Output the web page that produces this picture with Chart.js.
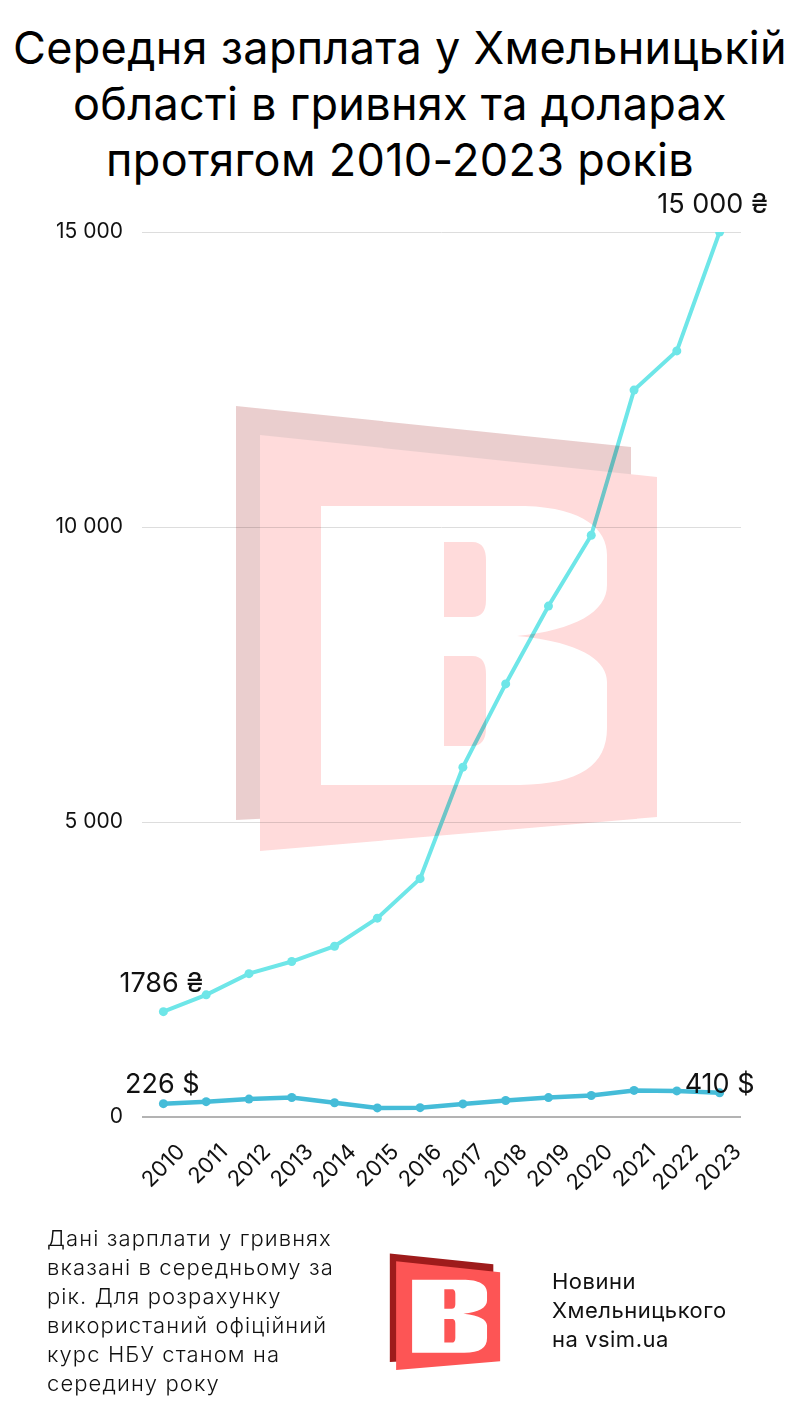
<!DOCTYPE html>
<html>
<head>
<meta charset="utf-8">
<script src="https://cdn.jsdelivr.net/npm/chart.js@4.4.0/dist/chart.umd.min.js"></script>
<style>
  body { margin: 0; background: #fff; }
  #page { position: relative; width: 800px; height: 1422px; overflow: hidden; background: #fff; }
  #title { position: absolute; left: 0; top: 20px; width: 800px; text-align: center;
           font-family: Inter, sans-serif; font-weight: 400; font-size: 45px; line-height: 56px;
           letter-spacing: 0.3px; color: #000; }
  #chart { position: absolute; left: 0; top: 180px; }
  #mark { position: absolute; left: 0; top: 0; mix-blend-mode: multiply; pointer-events: none; }
  #note { position: absolute; left: 47px; top: 1224px; font-family: Inter, sans-serif; font-weight: 300;
          font-size: 22px; line-height: 29px; letter-spacing: 1.1px; color: #111; }
  #brand { position: absolute; left: 552px; top: 1267px; font-family: Inter, sans-serif; font-weight: 400;
           font-size: 22px; line-height: 29px; letter-spacing: 0.5px; color: #111; }
</style>
</head>
<body>
<div id="page">
  <div id="title">Середня зарплата у Хмельницькій<br>області в гривнях та доларах<br>протягом 2010-2023 років</div>
  <canvas id="chart" width="800" height="1030"></canvas>
  <svg id="mark" width="800" height="1422" viewBox="0 0 800 1422">
    <defs>
      <g id="logo">
        <polygon points="236,406 631,447 631,800 236,820" fill="#9e1b1b"/>
        <polygon points="260,435 657,477 657,817 260,851" fill="#fd5555"/>
        <path fill="#fff" fill-rule="evenodd"
              d="M321,506 H525 C585,508 607,530 607,555 V585 C607,612 575,630 517,636 C580,642 607,660 607,682 V728 C607,765 580,784 520,785 H321 Z
                 M444,542 H472 C483,542 486,550 486,560 V600 C486,612 481,617 472,617 H444 Z
                 M444,656 H472 C483,656 486,664 486,674 V728 C486,740 481,746 472,746 H444 Z"/>
      </g>
    </defs>
    <use href="#logo" opacity="0.21"/>
    <use href="#logo" transform="translate(328,1147.16) scale(0.262)"/>
  </svg>
  <div id="note">Дані зарплати у гривнях<br>вказані в середньому за<br>рік. Для розрахунку<br>використаний офіційний<br>курс НБУ станом на<br>середину року</div>
  <div id="brand">Новини<br>Хмельницького<br>на vsim.ua</div>
</div>
<script>
let years = ['2010', '2011', '2012', '2013', '2014', '2015', '2016', '2017', '2018', '2019', '2020', '2021', '2022', '2023'];
let salaryUah = [1786, 2070, 2430, 2635, 2895, 3370, 4040, 5930, 7340, 8660, 9860, 12320, 12985, 15000];
let salaryUsd = [226, 260, 304, 331, 241, 154, 158, 222, 280, 329, 365, 451, 442, 410];
let yTicks = [0, 5000, 10000, 15000];

function fmt(v) {
    return String(v).replace(/\B(?=(\d{3})+(?!\d))/g, ' ');
}

// labels at the first and last point of each line
let pointLabels = [
    { ds: 0, i: 0, text: salaryUah[0] + ' ₴', dx: -2, dy: -28 },
    { ds: 0, i: 13, text: fmt(salaryUah[13]) + ' ₴', dx: -7, dy: -27 },
    { ds: 1, i: 0, text: salaryUsd[0] + ' $', dx: -1, dy: -19 },
    { ds: 1, i: 13, text: salaryUsd[13] + ' $', dx: 0, dy: -8 }
];

let labelPlugin = {
    id: 'pointLabels',
    afterDraw(chart) {
        let ctx = chart.ctx;
        ctx.save();
        ctx.font = '400 27px Inter, sans-serif';
        ctx.fillStyle = '#111';
        ctx.textAlign = 'center';
        ctx.textBaseline = 'middle';
        pointLabels.forEach(l => {
            let pt = chart.getDatasetMeta(l.ds).data[l.i];
            ctx.fillText(l.text, pt.x + l.dx, pt.y + l.dy);
        });
        ctx.restore();
    }
};

let ctx = document.getElementById('chart').getContext('2d');

let chart = new Chart(ctx, {
    type: 'line',
    data: {
        labels: years,
        datasets: [{
            label: 'UAH',
            data: salaryUah,
            borderColor: '#6ee6e8',
            backgroundColor: '#6ee6e8',
            borderWidth: 4,
            pointRadius: 4.5,
            pointBorderWidth: 0,
            tension: 0
        }, {
            label: 'USD',
            data: salaryUsd,
            borderColor: '#45bcd8',
            backgroundColor: '#45bcd8',
            borderWidth: 4.5,
            pointRadius: 4.5,
            pointBorderWidth: 0,
            tension: 0
        }]
    },
    options: {
        responsive: false,
        animation: false,
        layout: { padding: { top: 52, right: 59, left: 0, bottom: 0 } },
        plugins: {
            legend: { display: false },
            tooltip: { enabled: false }
        },
        scales: {
            x: {
                offset: true,
                grid: { display: false },
                border: { display: false },
                ticks: {
                    minRotation: 45,
                    maxRotation: 45,
                    padding: 14,
                    labelOffset: 18,
                    color: '#111',
                    font: { family: 'Inter, sans-serif', size: 22 }
                },
                afterFit(s) { s.height = 93; }
            },
            y: {
                min: 0,
                max: 15000,
                afterBuildTicks(s) { s.ticks = yTicks.map(v => ({ value: v })); },
                grid: {
                    drawTicks: false,
                    color: c => c.tick && c.tick.value === 0 ? '#b3b3b3' : '#dddddd',
                    lineWidth: c => c.tick && c.tick.value === 0 ? 2 : 1
                },
                border: { display: false },
                ticks: {
                    padding: 19,
                    color: '#111',
                    font: { family: 'Inter, sans-serif', size: 21 },
                    callback: v => fmt(v)
                },
                afterFit(s) { s.width = 142; }
            }
        }
    },
    plugins: [labelPlugin]
});
</script>
</body>
</html>
